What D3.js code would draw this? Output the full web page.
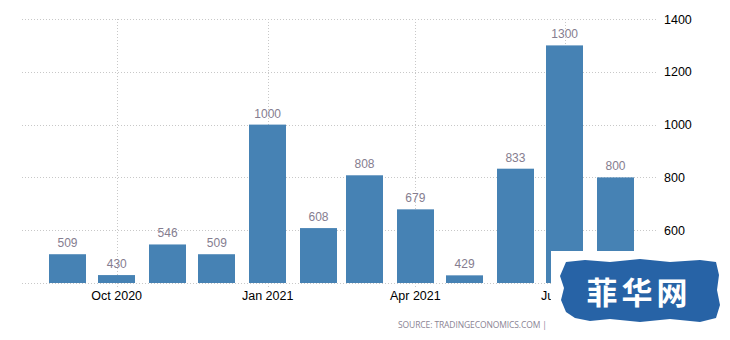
<!DOCTYPE html>
<html><head><meta charset="utf-8">
<script src="https://cdn.jsdelivr.net/npm/d3@7"></script>
<style>html,body{margin:0;padding:0;background:#fff;}svg{display:block;}</style>
</head><body>
<svg id="chart" width="730" height="340"></svg>
<script>
const months = ["2020-09-01","2020-10-01","2020-11-01","2020-12-01","2021-01-01","2021-02-01","2021-03-01","2021-04-01","2021-05-01","2021-06-01","2021-07-01","2021-08-01"];
const values = [509,430,546,509,1000,608,808,679,429,833,1300,800];
const valueLabels = ["509","430","546","509","1000","608","808","679","429","833","1300","800"];
const yTicks = [600,800,1000,1200,1400];
const xTickDates = ["2020-10-01","2021-01-01","2021-04-01","2021-07-01"];
const xTickLabels = ["Oct 2020","Jan 2021","Apr 2021","Jul 2021"];

const parse = d3.utcParse("%Y-%m-%d");
const svg = d3.select("#chart");
const x = d3.scaleUtc().domain([parse(months[0]), parse(months[months.length-1])]).range([67.5, 615.5]);
const y = d3.scaleLinear().domain([400, 1400]).range([283, 19]);
const barW = 37;
const font = "'Liberation Sans', Arial, sans-serif";

// horizontal grid
const yGrid = [400].concat(yTicks);
svg.append("g").selectAll("line").data(yGrid).join("line")
  .attr("x1", 22).attr("x2", 658)
  .attr("y1", d => Math.round(y(d)) + 0.5).attr("y2", d => Math.round(y(d)) + 0.5)
  .attr("stroke", "#c8c8c8").attr("stroke-dasharray", "1,2");

// vertical grid
svg.append("g").selectAll("line").data(xTickDates).join("line")
  .attr("x1", d => Math.round(x(parse(d))) + 0.5).attr("x2", d => Math.round(x(parse(d))) + 0.5)
  .attr("y1", y(1400)).attr("y2", 288)
  .attr("stroke", "#c8c8c8").attr("stroke-dasharray", "1,2");

// bars
svg.append("g").selectAll("rect").data(values).join("rect")
  .attr("x", (d,i) => Math.round(x(parse(months[i])) - barW/2))
  .attr("y", d => y(d))
  .attr("width", barW)
  .attr("height", d => y(400) - y(d))
  .attr("fill", "#4682b4");

// value labels
svg.append("g").selectAll("text").data(values).join("text")
  .attr("x", (d,i) => x(parse(months[i])))
  .attr("y", d => y(d) - 7)
  .attr("text-anchor", "middle")
  .attr("font-family", font).attr("font-size", 12)
  .attr("fill", "#857d8f")
  .text((d,i) => valueLabels[i]);

// y axis labels
svg.append("g").selectAll("text").data(yTicks).join("text")
  .attr("x", 664).attr("y", d => y(d) + 4.5)
  .attr("font-family", font).attr("font-size", 12.5)
  .attr("fill", "#000")
  .text(d => d);

// x axis labels
svg.append("g").selectAll("text").data(xTickDates).join("text")
  .attr("x", d => x(parse(d))).attr("y", 300)
  .attr("text-anchor", "middle")
  .attr("font-family", font).attr("font-size", 12.5)
  .attr("fill", "#000")
  .text((d,i) => xTickLabels[i]);

// source
svg.append("text").attr("x", 398).attr("y", 328)
  .attr("font-family", "'Open Sans', sans-serif").attr("font-size", 8.5)
  .attr("fill", "#8a8494")
  .attr("textLength", 149).attr("lengthAdjust", "spacing")
  .text("SOURCE: TRADINGECONOMICS.COM |");

// watermark
svg.append("rect").attr("x", 551).attr("y", 251).attr("width", 179).attr("height", 89).attr("fill", "#fff");
svg.append("path")
  .attr("d", "M566,262 L585,260 L610,262 L640,259 L670,262 L700,260 L716,262 L719,275 L717,290 L720,305 L716,318 L700,322 L670,319 L640,322 L610,319 L590,321 L575,318 L566,312 L561,300 L564,288 L560,276 Z")
  .attr("fill", "#2763a6");
svg.append("text").attr("x", 639).attr("y", 304)
  .attr("text-anchor", "middle")
  .attr("font-family", "'Noto Sans CJK SC', sans-serif").attr("font-weight", "bold").attr("font-size", 31)
  .attr("fill", "#fff").attr("letter-spacing", 4)
  .text("菲华网");
</script>
</body></html>
